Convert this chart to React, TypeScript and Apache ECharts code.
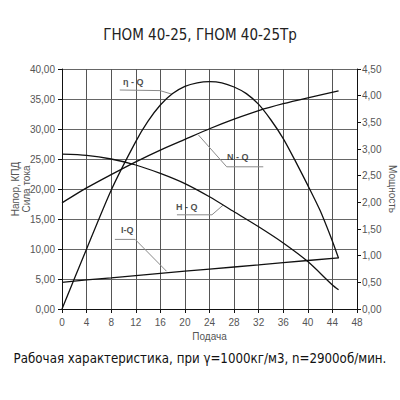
import React, { useEffect, useRef } from "react";
import * as echarts from "echarts";

// Q values and curves
const hQ = [0, 4, 8, 12, 16, 20, 24, 28, 32, 36, 40, 44, 45];
const hVals = [25.8, 25.6, 25.0, 24.0, 22.6, 20.9, 18.7, 16.2, 13.7, 11.0, 7.9, 4.0, 3.2];

const etaQ = [0, 4, 8, 12, 14, 16, 18, 20, 22, 24, 26, 28, 30, 32, 34, 36, 38, 40, 42, 44, 45];
const etaVals = [0, 10, 19.8, 27.9, 31.3, 34, 35.9, 37.1, 37.7, 37.9, 37.7, 37.0, 35.9, 34.1, 31.5, 28.4, 24.6, 20.6, 16.4, 11.3, 8.45];

const nQ = [0, 4, 8, 12, 16, 20, 24, 28, 32, 36, 40, 45];
const nVals = [1.99, 2.27, 2.52, 2.76, 2.98, 3.18, 3.38, 3.56, 3.72, 3.85, 3.96, 4.09];

const iQ = [0, 4, 8, 12, 16, 20, 24, 28, 32, 36, 40, 45];
const iVals = [4.45, 4.85, 5.2, 5.57, 5.93, 6.3, 6.65, 7.0, 7.35, 7.72, 8.08, 8.52];

// curve labels and their leader lines (data coordinates, left axis)
const labelNames = ["η - Q", "N - Q", "H - Q", "I-Q"];
const labelPos = [
  [11.6, 37.9],
  [28.6, 25.4],
  [20.3, 17.0],
  [10.6, 13.1],
];
const leaders = [
  [[9.4, 36.5], [15.95, 36.4], [17.9, 35.8]],
  [[22.2, 29.0], [26.8, 23.7], [32.75, 23.7]],
  [[18.7, 15.7], [24.4, 15.7], [26.2, 17.3]],
  [[8.6, 11.6], [11.9, 11.6], [17.0, 6.3]],
];

const titleText = "ГНОМ 40-25, ГНОМ 40-25Тр";
const footText = "Рабочая характеристика, при γ=1000кг/м3, n=2900об/мин.";

const zip = (xs: number[], ys: number[]) => xs.map((x, i) => [x, ys[i]]);
const fmt = (v: number) => v.toFixed(2).replace(".", ",");

export default function App() {
  const ref = useRef<HTMLDivElement>(null);
  useEffect(() => {
    if (!ref.current) return;
    const chart = echarts.init(ref.current, null, { renderer: "svg" });
    const axisFont = { fontFamily: "Liberation Sans", fontSize: 10, color: "#555" };
    const curve = (name: string, data: number[][], yAxisIndex = 0, smooth: any = 0.25) => ({
      name,
      type: "line",
      yAxisIndex,
      data,
      symbol: "none",
      smooth,
      lineStyle: { color: "#111", width: 1.3 },
      z: 5,
    });
    chart.setOption({
      animation: false,
      backgroundColor: "#fff",
      title: {
        text: titleText,
        left: "center",
        top: 22,
        textStyle: { fontFamily: "DejaVu Sans Condensed", fontSize: 15, fontWeight: "normal", color: "#222" },
      },
      graphic: [
        {
          type: "text",
          left: "center",
          top: 352,
          style: { text: footText, fontFamily: "DejaVu Sans Condensed", fontSize: 13.2, fill: "#111" },
        },
      ],
      grid: { left: 62, right: 43, top: 69, bottom: 91, containLabel: false, outerBoundsMode: "none" },
      xAxis: {
        type: "value",
        min: 0,
        max: 48,
        interval: 4,
        name: "Подача",
        nameLocation: "middle",
        nameGap: 22,
        nameMoveOverlap: false,
        nameTextStyle: axisFont,
        axisLine: { show: true, lineStyle: { color: "#111" } },
        axisTick: { show: true, length: 4, lineStyle: { color: "#111" } },
        axisLabel: { ...axisFont, margin: 8 },
        splitLine: { show: true, lineStyle: { color: "#555", width: 1 } },
      },
      yAxis: [
        {
          type: "value",
          min: 0,
          max: 40,
          interval: 5,
          name: "Напор, КПД\nСила тока",
          nameLocation: "middle",
          nameGap: 30,
          nameMoveOverlap: false,
          nameTextStyle: { ...axisFont, lineHeight: 11 },
          axisLine: { show: true, lineStyle: { color: "#111" } },
          axisTick: { show: true, length: 4, lineStyle: { color: "#111" } },
          axisLabel: { ...axisFont, margin: 7, formatter: fmt },
          splitLine: { show: true, lineStyle: { color: "#666", width: 1 } },
        },
        {
          type: "value",
          min: 0,
          max: 4.5,
          interval: 0.5,
          position: "right",
          name: "Мощность",
          nameLocation: "middle",
          nameRotate: -90,
          nameGap: 30,
          nameMoveOverlap: false,
          nameTextStyle: axisFont,
          axisLine: { show: true, lineStyle: { color: "#111" } },
          axisTick: { show: true, length: 4, lineStyle: { color: "#111" } },
          axisLabel: { ...axisFont, margin: 5, formatter: fmt },
          splitLine: { show: false },
        },
      ],
      series: [
        ...leaders.map((pts, k) => ({
          name: "leader" + k,
          type: "line",
          data: pts,
          symbol: "none",
          lineStyle: { color: "#8a8a8a", width: 1 },
          z: 3,
        })),
        {
          name: "labels",
          type: "scatter",
          data: labelNames.map((n, k) => ({ name: n, value: labelPos[k] })),
          symbol: "circle",
          symbolSize: 1,
          itemStyle: { color: "rgba(0,0,0,0)" },
          label: {
            show: true,
            position: "inside",
            formatter: "{b}",
            fontFamily: "Liberation Sans",
            fontSize: 9,
            fontWeight: "bold",
            color: "#222",
          },
          z: 6,
        },
        curve("H-Q", zip(hQ, hVals)),
        curve("η-Q", zip(etaQ, etaVals)),
        curve("I-Q", zip(iQ, iVals), 0, false),
        curve("N-Q", zip(nQ, nVals), 1),
      ],
    });
    return () => chart.dispose();
  }, []);
  return (
    <div
      ref={ref}
      style={{ position: "fixed", left: 0, top: 0, width: 400, height: 400, background: "#fff" }}
    />
  );
}
